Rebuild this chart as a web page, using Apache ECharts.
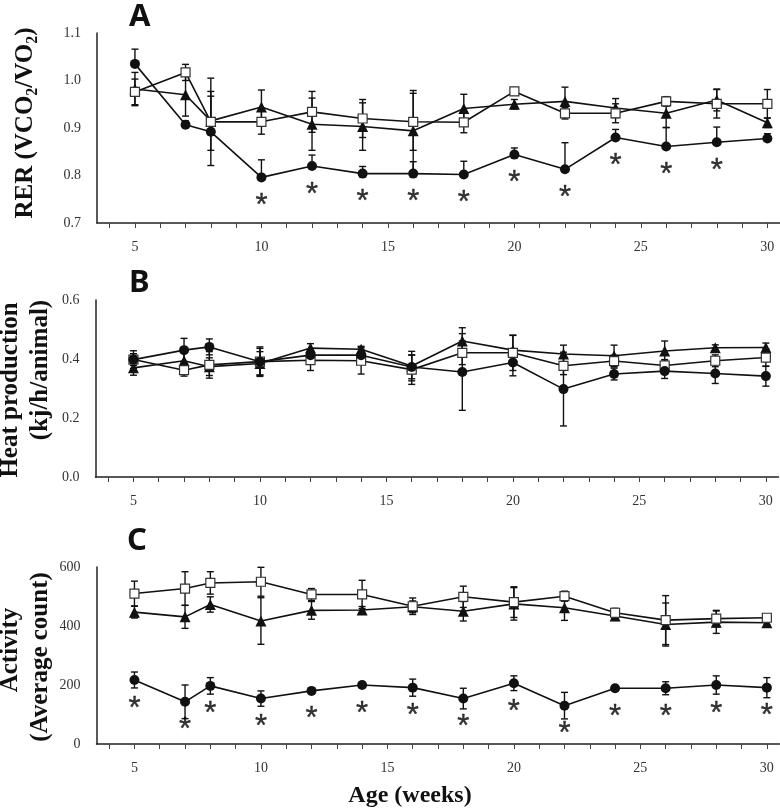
<!DOCTYPE html>
<html>
<head>
<meta charset="utf-8">
<script src="https://cdn.jsdelivr.net/npm/echarts@6/dist/echarts.min.js"></script>
<style>html,body{margin:0;padding:0;background:#fff;}#c{width:780px;height:808px;}</style>
</head>
<body>
<div id="c"></div>
<script>
const weeks = [5, 7, 8, 10, 12, 14, 16, 18, 20, 22, 24, 26, 28, 30];
const xTicks = [4,5,6,7,8,9,10,11,12,13,14,15,16,17,18,19,20,21,22,23,24,25,26,27,28,29,30];
const xLabels = [5, 10, 15, 20, 25, 30];

// Panel A: RER
const rerCircle = [1.035, 0.907, 0.892, 0.796, 0.820, 0.804, 0.804, 0.802, 0.844, 0.813, 0.880, 0.861, 0.870, 0.878];
const rerCircleErr = [0.031, 0.008, 0.075, 0.037, 0.023, 0.015, 0.025, 0.028, 0.014, 0.056, 0.017, 0.04, 0.032, 0.01];
const rerTriangle = [0.982, 0.970, 0.915, 0.944, 0.908, 0.903, 0.894, 0.941, 0.950, 0.956, 0.942, 0.931, 0.959, 0.911];
const rerTriangleErr = [0.035, 0.045, 0.062, 0.036, 0.055, 0.05, 0.085, 0.03, 0.01, 0.03, 0.02, 0.03, 0.023, 0.01];
const rerSquare = [0.976, 1.017, 0.913, 0.913, 0.934, 0.920, 0.913, 0.912, 0.977, 0.931, 0.931, 0.956, 0.951, 0.951];
const rerSquareErr = [0.027, 0.017, 0.092, 0.026, 0.043, 0.04, 0.06, 0.022, 0.008, 0.012, 0.02, 0.01, 0.03, 0.03];
const rerSig = [0, 0, 0, 1, 1, 1, 1, 1, 1, 1, 1, 1, 1, 0];

// Panel B: Heat production
const heatCircle = [0.398, 0.430, 0.441, 0.391, 0.413, 0.413, 0.373, 0.356, 0.388, 0.298, 0.349, 0.359, 0.351, 0.342];
const heatCircleErr = [0.02, 0.04, 0.027, 0.045, 0.02, 0.02, 0.04, 0.13, 0.045, 0.125, 0.02, 0.025, 0.034, 0.034];
const heatTriangle = [0.370, 0.394, 0.374, 0.385, 0.437, 0.433, 0.376, 0.461, 0.430, 0.417, 0.411, 0.427, 0.438, 0.439];
const heatTriangleErr = [0.025, 0.03, 0.03, 0.04, 0.015, 0.01, 0.05, 0.045, 0.05, 0.03, 0.036, 0.034, 0.01, 0.015];
const heatSquare = [0.398, 0.362, 0.380, 0.391, 0.396, 0.394, 0.364, 0.421, 0.421, 0.377, 0.393, 0.378, 0.394, 0.405];
const heatSquareErr = [0.03, 0.02, 0.045, 0.05, 0.035, 0.045, 0.05, 0.04, 0.06, 0.03, 0.02, 0.02, 0.02, 0.03];

// Panel C: Activity
const actCircle = [217, 143, 197, 154, 180, 200, 191, 154, 206, 130, 189, 189, 200, 191];
const actCircleErr = [27, 57, 28, 26, 8, 8, 29, 35, 25, 45, 5, 22, 31, 34];
const actTriangle = [447, 431, 473, 417, 453, 454, 465, 450, 475, 462, 434, 405, 413, 411];
const actTriangleErr = [20, 39, 26, 79, 30, 12, 20, 33, 55, 43, 15, 73, 38, 8];
const actSquare = [510, 527, 546, 550, 507, 507, 467, 499, 481, 501, 445, 420, 425, 428];
const actSquareErr = [42, 57, 38, 49, 20, 48, 28, 36, 52, 17, 15, 83, 28, 10];
const actSig = [1, 1, 1, 1, 1, 1, 1, 1, 1, 1, 1, 1, 1, 1];

const INK = '#111';
const SERIF = 'Liberation Serif';

function errSeries(g, vals, errs, both) {
  return {
    type: 'custom', xAxisIndex: g, yAxisIndex: g, z: 1, silent: true,
    data: weeks.map((w, i) => [w, vals[i], errs[i]]),
    renderItem: function (params, api) {
      const x = api.value(0), y = api.value(1), e = api.value(2);
      const top = api.coord([x, y + e]);
      const bot = api.coord([x, both ? y - e : y]);
      const hw = 3.5;
      const st = { stroke: INK, lineWidth: 1.4 };
      const ch = [
        { type: 'line', shape: { x1: top[0], y1: top[1], x2: bot[0], y2: bot[1] }, style: st },
        { type: 'line', shape: { x1: top[0] - hw, y1: top[1], x2: top[0] + hw, y2: top[1] }, style: st }
      ];
      if (both) ch.push({ type: 'line', shape: { x1: bot[0] - hw, y1: bot[1], x2: bot[0] + hw, y2: bot[1] }, style: st });
      return { type: 'group', children: ch };
    }
  };
}

function lineSeries(g, vals, kind, z) {
  const s = {
    type: 'line', xAxisIndex: g, yAxisIndex: g, z: z, silent: true,
    data: weeks.map((w, i) => [w, vals[i]]),
    lineStyle: { color: INK, width: 1.6 },
    showSymbol: true
  };
  if (kind === 'circle') { s.symbol = 'circle'; s.symbolSize = 10; s.itemStyle = { color: INK, borderWidth: 0 }; }
  if (kind === 'triangle') { s.symbol = 'triangle'; s.symbolSize = 11; s.itemStyle = { color: INK, borderWidth: 0 }; }
  if (kind === 'square') { s.symbol = 'rect'; s.symbolSize = 9; s.itemStyle = { color: '#fff', borderColor: '#333', borderWidth: 1.2 }; }
  return s;
}

function starSeries(g, vals, sig) {
  return {
    type: 'scatter', xAxisIndex: g, yAxisIndex: g, z: 6, silent: true,
    symbol: 'circle', symbolSize: 1, itemStyle: { color: 'transparent' },
    data: weeks.map((w, i) => sig[i] ? [w, vals[i]] : null).filter(d => d),
    label: { show: true, position: 'inside', formatter: '*', offset: [0, 29],
      fontFamily: 'Liberation Sans', fontSize: 31, color: '#000',
      textBorderColor: '#000', textBorderWidth: 0.4 }
  };
}

function xAxis(g) {
  return {
    type: 'value', gridIndex: g, min: 3.5, max: 30.5,
    axisLine: { show: true, lineStyle: { color: '#222', width: 1.5 } },
    axisTick: { show: true, customValues: xTicks, length: 5, inside: false, lineStyle: { color: '#444', width: 1 } },
    axisLabel: { customValues: xLabels, fontFamily: SERIF, fontSize: 14, color: '#333', margin: 17 },
    splitLine: { show: false }
  };
}

function yAxis(g, min, max, interval, dec) {
  return {
    type: 'value', gridIndex: g, min: min, max: max, interval: interval,
    axisLine: { show: true, lineStyle: { color: '#222', width: 1.5 } },
    axisTick: { show: false },
    axisLabel: { fontFamily: SERIF, fontSize: 14, color: '#333', margin: 16,
      formatter: v => v.toFixed(dec) },
    splitLine: { show: false }
  };
}

const chart = echarts.init(document.getElementById('c'), null, { renderer: 'canvas' });
const titleStyle = { fontFamily: SERIF, fontWeight: 'bold', fontSize: 25, fill: INK, align: 'center', verticalAlign: 'middle' };
const letterStyle = { fontFamily: 'Noto Sans', fontWeight: 'bold', fontSize: 31, fill: INK, align: 'left', verticalAlign: 'middle' };

chart.setOption({
  animation: false,
  backgroundColor: '#fff',
  grid: [
    { left: 97, right: 0, top: 33, height: 190 },
    { left: 95.5, right: 1.5, top: 300, height: 177 },
    { left: 96.5, right: 0.5, top: 567, height: 177 }
  ],
  xAxis: [xAxis(0), xAxis(1), xAxis(2)],
  yAxis: [yAxis(0, 0.7, 1.1, 0.1, 1), yAxis(1, 0, 0.6, 0.2, 1), yAxis(2, 0, 600, 200, 0)],
  series: [
    errSeries(0, rerTriangle, rerTriangleErr, true),
    errSeries(0, rerSquare, rerSquareErr, true),
    errSeries(0, rerCircle, rerCircleErr, false),
    lineSeries(0, rerTriangle, 'triangle', 3),
    lineSeries(0, rerSquare, 'square', 4),
    lineSeries(0, rerCircle, 'circle', 5),
    starSeries(0, rerCircle, rerSig),

    errSeries(1, heatTriangle, heatTriangleErr, true),
    errSeries(1, heatSquare, heatSquareErr, true),
    errSeries(1, heatCircle, heatCircleErr, true),
    lineSeries(1, heatTriangle, 'triangle', 3),
    lineSeries(1, heatSquare, 'square', 4),
    lineSeries(1, heatCircle, 'circle', 5),

    errSeries(2, actTriangle, actTriangleErr, true),
    errSeries(2, actSquare, actSquareErr, true),
    errSeries(2, actCircle, actCircleErr, true),
    lineSeries(2, actTriangle, 'triangle', 3),
    lineSeries(2, actSquare, 'square', 4),
    lineSeries(2, actCircle, 'circle', 5),
    starSeries(2, actCircle, actSig)
  ],
  graphic: [
    { type: 'text', x: 129, y: 17, style: Object.assign({ text: 'A' }, letterStyle) },
    { type: 'text', x: 129, y: 283, style: Object.assign({ text: 'B' }, letterStyle) },
    { type: 'text', x: 127, y: 541, style: Object.assign({ text: 'C' }, letterStyle) },
    { type: 'text', x: 26, y: 123, rotation: Math.PI / 2,
      style: { text: '{b|RER (VCO}{s|2}{b|/VO}{s|2}{b|)}', align: 'center', verticalAlign: 'middle',
        rich: {
          b: { fontFamily: SERIF, fontWeight: 'bold', fontSize: 25, fill: INK, lineHeight: 30 },
          s: { fontFamily: SERIF, fontWeight: 'bold', fontSize: 16, fill: INK, lineHeight: 30, verticalAlign: 'bottom' }
        } } },
    { type: 'text', x: 11, y: 390, rotation: Math.PI / 2, style: Object.assign({ text: 'Heat production' }, titleStyle) },
    { type: 'text', x: 41, y: 370, rotation: Math.PI / 2, style: Object.assign({ text: '(kj/h/animal)' }, titleStyle) },
    { type: 'text', x: 11, y: 650, rotation: Math.PI / 2, style: Object.assign({ text: 'Activity' }, titleStyle) },
    { type: 'text', x: 41, y: 657, rotation: Math.PI / 2, style: Object.assign({ text: '(Average count)' }, titleStyle) },
    { type: 'text', x: 410, y: 796, style: Object.assign({ text: 'Age (weeks)' }, titleStyle, { fontSize: 24 }) }
  ]
});
</script>
</body>
</html>
